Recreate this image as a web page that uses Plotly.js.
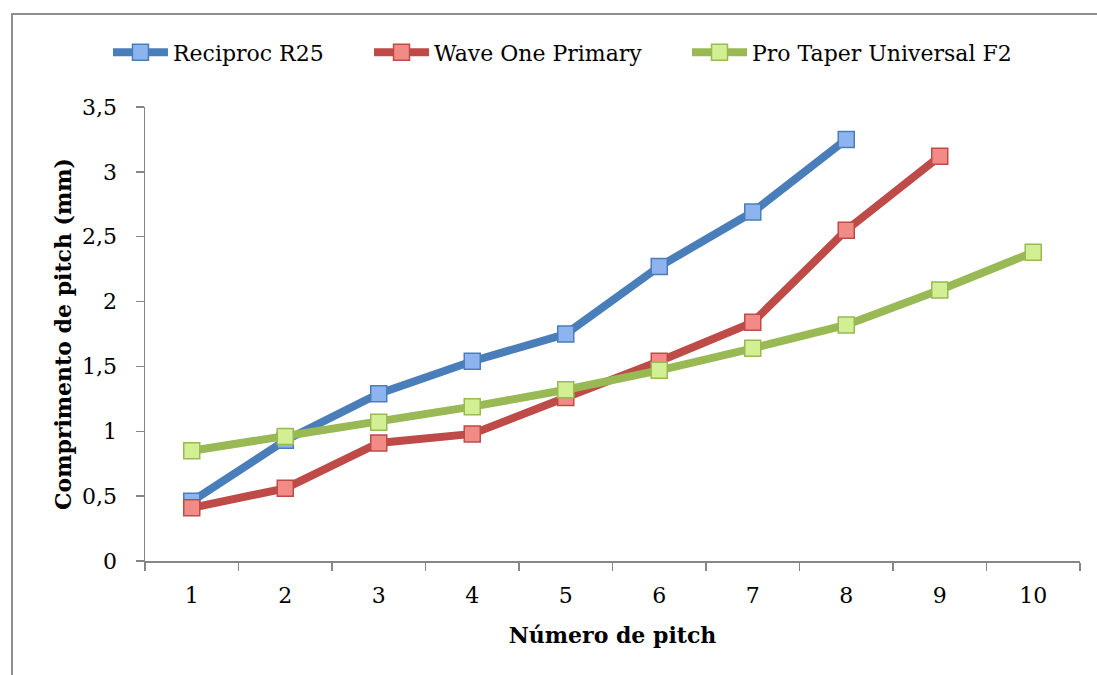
<!DOCTYPE html>
<html>
<head>
<meta charset="utf-8">
<script src="https://cdn.plot.ly/plotly-3.0.1.min.js"></script>
<style>
html,body{margin:0;padding:0;overflow:hidden;background:#fff;}
#chart{position:absolute;left:0;top:0;width:1097px;height:675px;}
#frame{position:absolute;left:11px;top:13px;width:1200px;height:800px;border:2px solid #8e8e8e;pointer-events:none;}
</style>
</head>
<body>
<div id="chart"></div>
<div id="frame"></div>
<script>
const categories = ['1','2','3','4','5','6','7','8','9','10'];
const seriesNames = ['Reciproc R25','Wave One Primary','Pro Taper Universal F2'];
const reciproc = [0.46, 0.93, 1.29, 1.54, 1.75, 2.27, 2.69, 3.25];
const waveOne = [0.41, 0.56, 0.91, 0.98, 1.26, 1.54, 1.84, 2.55, 3.12];
const proTaper = [0.85, 0.96, 1.07, 1.19, 1.32, 1.47, 1.64, 1.82, 2.09, 2.38];
const yTicks = [0, 0.5, 1, 1.5, 2, 2.5, 3, 3.5];

const styles = [
  {line:'#4a7ebb', fill:'#8db4ef'},
  {line:'#be4b48', fill:'#f28a86'},
  {line:'#98b954', fill:'#d2ef94'}
];
const allData = [reciproc, waveOne, proTaper];
const legendIds = ['legend', 'legend2', 'legend3'];
const legendX = [-0.0396, 0.2396, 0.5797];
const FONT = 'DejaVu Serif';
const FS = 22;

const traces = allData.map((vals, i) => ({
  type: 'scatter',
  mode: 'lines+markers',
  name: seriesNames[i],
  legend: legendIds[i],
  x: categories.slice(0, vals.length),
  y: vals,
  line: {color: styles[i].line, width: 8},
  marker: {
    symbol: 'square', size: 16, color: styles[i].fill,
    line: {color: styles[i].line, width: 1.5}
  }
}));

const layout = {
  width: 1097, height: 675,
  margin: {l: 145, r: 17, t: 107, b: 114},
  paper_bgcolor: '#fff', plot_bgcolor: '#fff',
  separators: ',.',
  font: {family: FONT, size: FS, color: '#000'},
  showlegend: true,
  xaxis: {
    type: 'category', categoryorder: 'array', categoryarray: categories,
    range: [-0.5, 9.5], tickson: 'boundaries',
    ticks: 'outside', ticklen: 8, tickcolor: '#868686', tickwidth: 1.5,
    showline: true, linecolor: '#868686', linewidth: 1.5,
    showgrid: false, zeroline: false,
    ticklabelstandoff: 14,
    tickfont: {family: FONT, size: FS},
    title: {text: '<b>Número de pitch</b>', font: {family: FONT, size: FS}, standoff: 20}
  },
  yaxis: {
    range: [0, 3.5], tickvals: yTicks,
    ticks: 'outside', ticklen: 8, tickcolor: '#868686', tickwidth: 1.5,
    showline: true, linecolor: '#868686', linewidth: 1.5,
    showgrid: false, zeroline: false,
    ticklabelstandoff: 14,
    tickfont: {family: FONT, size: FS},
    title: {text: '<b>Comprimento de pitch (mm)</b>', font: {family: FONT, size: FS}, standoff: 4}
  }
};
legendIds.forEach((id, i) => {
  layout[id] = {
    orientation: 'h', x: legendX[i], xanchor: 'left', y: 1.12, yanchor: 'middle',
    font: {family: FONT, size: FS, color: '#000'},
    itemwidth: 55, bgcolor: 'rgba(0,0,0,0)'
  };
});

Plotly.newPlot('chart', traces, layout, {staticPlot: true, displayModeBar: false});
</script>
</body>
</html>
